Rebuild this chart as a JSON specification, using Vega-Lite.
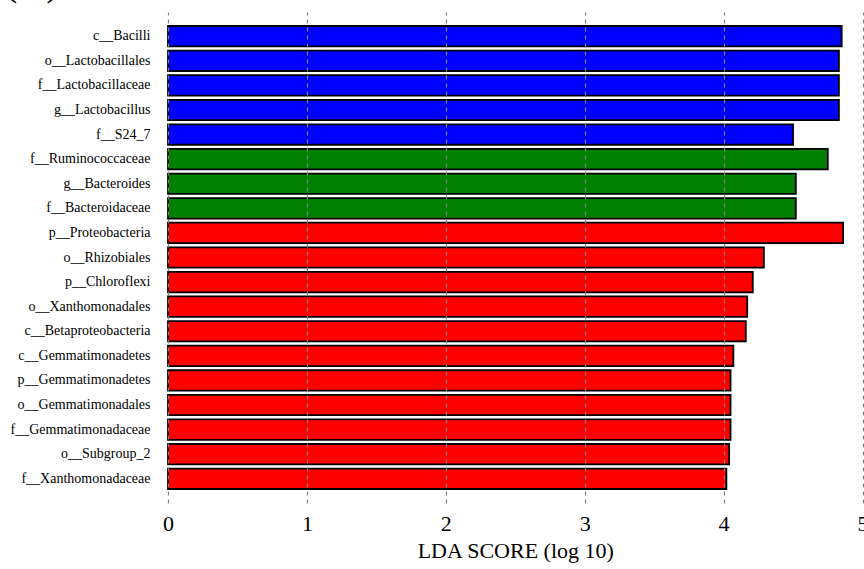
{
  "$schema": "https://vega.github.io/schema/vega-lite/v6.json",
  "autosize": "none",
  "width": 694.5,
  "height": 491,
  "padding": {"left": 168, "top": 12, "right": 1.5, "bottom": 66},
  "background": "white",
  "title": {"text": "(A)", "anchor": "start", "frame": "group", "dx": -164, "dy": 27, "offset": 4, "fontSize": 40, "baseline": "alphabetic", "font": "Liberation Serif", "fontWeight": "normal", "color": "black"},
  "data": {"values": [
    {"taxon": "c__Bacilli", "lda": 4.85, "group": "blue"},
    {"taxon": "o__Lactobacillales", "lda": 4.83, "group": "blue"},
    {"taxon": "f__Lactobacillaceae", "lda": 4.83, "group": "blue"},
    {"taxon": "g__Lactobacillus", "lda": 4.83, "group": "blue"},
    {"taxon": "f__S24_7", "lda": 4.5, "group": "blue"},
    {"taxon": "f__Ruminococcaceae", "lda": 4.75, "group": "green"},
    {"taxon": "g__Bacteroides", "lda": 4.52, "group": "green"},
    {"taxon": "f__Bacteroidaceae", "lda": 4.52, "group": "green"},
    {"taxon": "p__Proteobacteria", "lda": 4.86, "group": "red"},
    {"taxon": "o__Rhizobiales", "lda": 4.29, "group": "red"},
    {"taxon": "p__Chloroflexi", "lda": 4.21, "group": "red"},
    {"taxon": "o__Xanthomonadales", "lda": 4.17, "group": "red"},
    {"taxon": "c__Betaproteobacteria", "lda": 4.16, "group": "red"},
    {"taxon": "c__Gemmatimonadetes", "lda": 4.07, "group": "red"},
    {"taxon": "p__Gemmatimonadetes", "lda": 4.05, "group": "red"},
    {"taxon": "o__Gemmatimonadales", "lda": 4.05, "group": "red"},
    {"taxon": "f__Gemmatimonadaceae", "lda": 4.05, "group": "red"},
    {"taxon": "o__Subgroup_2", "lda": 4.04, "group": "red"},
    {"taxon": "f__Xanthomonadaceae", "lda": 4.02, "group": "red"}
  ]},
  "mark": {"type": "bar", "stroke": "black", "strokeWidth": 1.8},
  "encoding": {
    "y": {
      "field": "taxon", "type": "nominal", "sort": null,
      "scale": {"paddingInner": 0.17, "paddingOuter": 0.57},
      "axis": {"title": null, "domain": false, "ticks": false, "labelFont": "Liberation Serif", "labelFontSize": 14, "labelColor": "black", "labelPadding": 18, "labelLimit": 300}
    },
    "x": {
      "field": "lda", "type": "quantitative",
      "scale": {"domain": [0, 5], "nice": false},
      "axis": {"title": "LDA SCORE (log 10)", "values": [0, 1, 2, 3, 4, 5], "format": "d", "domain": false, "ticks": false, "grid": true, "gridColor": "#808080", "gridDash": [4, 4], "gridWidth": 1.2, "gridOpacity": 1, "zindex": 1, "labelFont": "Liberation Serif", "labelFontSize": 22, "labelColor": "black", "labelPadding": 10, "labelFlush": false, "titleFont": "Liberation Serif", "titleFontSize": 22, "titleFontWeight": "normal", "titleColor": "black", "titlePadding": 6}
    },
    "color": {
      "field": "group", "type": "nominal",
      "scale": {"domain": ["blue", "green", "red"], "range": ["#0000FF", "#008000", "#FF0000"]},
      "legend": null
    }
  },
  "config": {"view": {"stroke": null}}
}
